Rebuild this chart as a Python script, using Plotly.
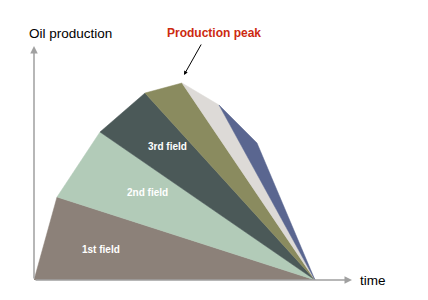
import plotly.graph_objects as go

# Top boundary vertices (time, production) of the cumulative production profile
times = [0, 23, 66, 111, 148, 185, 223]
production = [0, 83, 148, 187, 197, 175, 137]
end_time = 281  # all fields converge here at zero production

fields = ["1st field", "2nd field", "3rd field", "4th field", "5th field", "6th field"]
colors = ["#8c8179", "#b2cbb8", "#4b5958", "#8a8b5f", "#dddad7", "#5a6690"]
labels = ["1st field", "2nd field", "3rd field", "", "", ""]
label_pos = [(67, 31), (113, 88), (133, 134)]

fig = go.Figure()
for i, name in enumerate(fields):
    xs = [times[i], times[i + 1], end_time, times[i]]
    ys = [production[i], production[i + 1], 0, production[i]]
    fig.add_trace(go.Scatter(x=xs, y=ys, fill="toself", fillcolor=colors[i],
                             mode="lines", line=dict(width=0.5, color=colors[i]),
                             name=name, hoverinfo="name", showlegend=False))

for (lx, ly), txt in zip(label_pos, labels[:3]):
    fig.add_annotation(x=lx, y=ly, text=txt, showarrow=False,
                       font=dict(family="Liberation Sans", size=10, color="white", weight="bold"))

# axes arrows
fig.add_annotation(x=0, y=234, ax=0, ay=0, xref="x", yref="y", axref="x", ayref="y",
                   text="", showarrow=True, arrowhead=2, arrowsize=1, arrowwidth=1.5,
                   arrowcolor="#a0a0a0")
fig.add_annotation(x=318, y=0, ax=0, ay=0, xref="x", yref="y", axref="x", ayref="y",
                   text="", showarrow=True, arrowhead=2, arrowsize=1, arrowwidth=1.5,
                   arrowcolor="#a0a0a0")

fig.add_annotation(x=-0.022, y=1.06, xref="paper", yref="paper", text="Oil production",
                   showarrow=False, xanchor="left", yanchor="middle",
                   font=dict(family="Liberation Sans", size=13.5, color="black"))
fig.add_annotation(x=1.019, y=0, xref="paper", yref="paper", text="time",
                   showarrow=False, xanchor="left", yanchor="middle",
                   font=dict(family="Liberation Sans", size=13.5, color="black"))
fig.add_annotation(x=0.5676, y=1.06, xref="paper", yref="paper", text="Production peak",
                   showarrow=False, yanchor="middle",
                   font=dict(family="Liberation Sans", size=12, color="#cc2a10", weight="bold"))
fig.add_annotation(x=150, y=205, ax=168, ay=237, xref="x", yref="y", axref="x", ayref="y",
                   text="", showarrow=True, arrowhead=2, arrowsize=0.8, arrowwidth=1,
                   arrowcolor="black")

fig.update_layout(width=428, height=300, margin=dict(l=34, r=76, t=47, b=20),
                  plot_bgcolor="white", paper_bgcolor="white",
                  xaxis=dict(range=[0, 318], visible=False, fixedrange=True),
                  yaxis=dict(range=[0, 233], visible=False, fixedrange=True))
fig.write_html("out.html")
